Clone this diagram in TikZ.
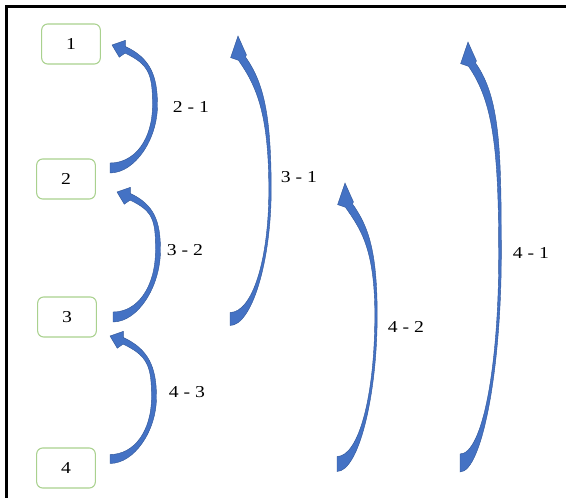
\documentclass[tikz,border=0pt]{standalone}
\usepackage{fontspec}
\setmainfont{Liberation Serif}[FakeStretch=1.18]
\usetikzlibrary{calc}
\definecolor{figblue}{HTML}{4472C4}
\definecolor{figblueedge}{HTML}{2F5597}
\definecolor{figgreen}{HTML}{A9D18E}
\tikzset{
  stagebox/.style={draw=figgreen, line width=0.8pt, rounded corners=4.5pt,
    minimum width=44pt, minimum height=30pt, inner sep=0pt,
    font=\fontsize{12.5}{14}\selectfont},
  difflabel/.style={inner sep=1pt, font=\fontsize{12.5}{14}\selectfont},
  arrowfill/.style={fill=figblue, draw=figblueedge, line width=0.3pt},
  frameline/.style={line width=2.4pt, black},
}
% head shapes: short arrows point left, long arrows point up
\newcommand{\shorthead}{\def\headlen{11}\def\headout{9}\def\headin{9}%
  \def\shaftang{25}\def\shaftfrac{0.45}\def\shafthalf{3.2}}
\newcommand{\longhead}{\def\headlen{20}\def\headout{5}\def\headin{11}%
  \def\shaftang{55}\def\shaftfrac{0.2}\def\shafthalf{3.8}}
% #1,#2 tail; #3,#4 bulge; #5,#6 tip; #7 head angle; #8 tail half; #9 bulge half
\newcommand{\bentarrow}[9]{%
  \pgfmathsetmacro\kup{0.5*(#4-#6)}%
  \pgfmathsetmacro\khd{\shaftfrac*(#4-#6)}%
  \pgfmathsetmacro\kdn{0.55*(#2-#4)}%
  \pgfmathsetmacro\kx{0.55*(#3-#1)}%
  \path (#5,#6) coordinate (tip) ++(#7:\headlen) coordinate (hb);
  \filldraw[arrowfill]
    (#1,#2+#8) .. controls +(\kx,0) and +(0,\kdn) .. (#3+#9,#4)
    .. controls +(0,-\kup) and +(\shaftang:\khd) .. ($(hb)+(#7-90:\shafthalf)+(#7:2)$)
    -- ($(hb)+(#7-90:\headout)$) -- (tip) -- ($(hb)+(#7+90:\headin)$)
    -- ($(hb)+(#7+90:\shafthalf)+(#7:4)$)
    .. controls +(\shaftang:\khd) and +(0,-\kup) .. (#3-#9,#4)
    .. controls +(0,\kdn) and +(\kx,0) .. (#1,#2-#8) -- cycle;
}
\begin{document}
\begin{tikzpicture}[x=0.75pt, y=-0.75pt]
\useasboundingbox (0,0) rectangle (566,498);
\clip (0,0) rectangle (566,498);
\draw[frameline] (6.7,530) |- (600,6.7);

% stages
\node[stagebox] (box1) at (71,44) {1};
\node[stagebox] (box2) at (66,179) {2};
\node[stagebox] (box3) at (67,317) {3};
\node[stagebox] (box4) at (66,468) {4};

% neighbouring differences
\shorthead
\bentarrow{110}{168}{155}{105}{112}{45}{20}{5}{2.5}
\bentarrow{113}{317}{158}{250}{117}{192}{20}{5}{2.5}
\bentarrow{110}{459}{154}{397}{110}{336}{20}{4.5}{2.5}

% longer differences
\longhead
\bentarrow{230}{319}{270}{190}{238}{36}{80}{6.5}{1.2}
\bentarrow{337}{464}{376}{315}{345}{183}{80}{7.5}{1.2}
\bentarrow{460}{463}{500}{255}{468}{42}{80}{9}{1.3}

\node[difflabel] (lab21) at (191,107) {2 - 1};
\node[difflabel] (lab32) at (185,250) {3 - 2};
\node[difflabel] (lab43) at (187,392) {4 - 3};
\node[difflabel] (lab31) at (299,177) {3 - 1};
\node[difflabel] (lab42) at (406,327) {4 - 2};
\node[difflabel] (lab41) at (531,253) {4 - 1};
\end{tikzpicture}
\end{document}
